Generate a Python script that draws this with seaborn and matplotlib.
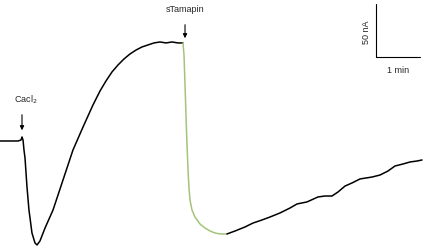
import matplotlib
matplotlib.use("Agg")
import matplotlib.pyplot as plt
import seaborn as sns
import pandas as pd

# --- data (time in s, current in nA relative to baseline) ---
t_pre = [0, 13.6, 24.5, 28.6, 30.0, 31.4, 32.7, 34.1, 36.8, 39.5, 43.6, 47.7, 50.5,
         54.5, 61.4, 72.3, 85.9, 99.5, 113.2, 126.8, 136.4, 144.5, 152.7, 160.9,
         169.1, 177.3, 185.5, 193.6, 201.8, 210.0, 218.2, 226.4, 234.5, 242.7, 249.5]
i_pre = [0, 0, 0, 0.9, 3.8, 0.9, -8.5, -16.0, -43.4, -65.1, -86.8, -96.2, -98.1,
         -94.3, -82.1, -65.1, -36.8, -8.5, 13.2, 34.0, 47.2, 56.6, 65.1, 71.7,
         77.4, 82.1, 85.8, 88.7, 90.6, 92.5, 93.4, 92.5, 93.4, 92.5, 92.5]
t_tam = [249.5, 250.9, 252.3, 253.6, 255.0, 256.4, 257.7, 259.1, 261.8, 265.9,
         272.7, 279.5, 286.4, 293.2, 300.0, 309.5]
i_tam = [92.5, 81.1, 52.8, 24.5, -3.8, -27.4, -44.3, -55.7, -65.1, -71.7,
         -78.3, -82.1, -84.9, -86.8, -87.7, -87.7]
t_post = [309.5, 320.5, 334.1, 345.0, 357.3, 368.2, 381.8, 395.5, 405.0, 418.6,
          433.6, 443.2, 452.7, 460.9, 470.5, 480.0, 490.9, 507.3, 518.2, 529.1,
          538.6, 549.5, 559.1, 568.6, 575.5]
i_post = [-87.7, -84.9, -81.1, -77.4, -74.5, -71.7, -67.9, -63.2, -59.4, -57.5,
          -52.8, -51.9, -51.9, -48.1, -42.5, -39.6, -35.8, -34.0, -32.1, -28.3,
          -23.6, -21.7, -19.8, -18.9, -17.9]

labels = ["Cacl$_2$", "sTamapin"]
label_times = [30.0, 252.3]
scale_time_label = "1 min"
scale_curr_label = "50 nA"
scale_t = 60    # s
scale_i = 50    # nA

sns.set_style("white")
plt.rcParams['font.family'] = ['Liberation Sans', 'DejaVu Sans']

fig = plt.figure(figsize=(4.23, 2.47), dpi=100)
ax = fig.add_axes([0, 0, 1, 1])

df_pre = pd.DataFrame({"t": t_pre, "i": i_pre})
df_tam = pd.DataFrame({"t": t_tam, "i": i_tam})
df_post = pd.DataFrame({"t": t_post, "i": i_post})

kw = dict(x="t", y="i", ax=ax, lw=1.1, sort=False, estimator=None)
sns.lineplot(data=df_pre, color="black", **kw)
sns.lineplot(data=df_tam, color="#a3c47a", **kw)
sns.lineplot(data=df_post, color="black", **kw)

ax.set_xlim(0, 576.8)
ax.set_ylim(-100.0, 133.0)
ax.axis("off")

arrow = dict(arrowstyle="-|>", color="black", lw=0.8, mutation_scale=6)
# event arrows
ax.annotate("", xy=(label_times[0], 7.5), xytext=(label_times[0], 27.4), arrowprops=arrow)
ax.text(label_times[0] + 5.5, 38.7, labels[0], ha="center", va="center", fontsize=6.5)
ax.annotate("", xy=(label_times[1], 94.3), xytext=(label_times[1], 112.3), arrowprops=arrow)
ax.text(label_times[1], 123.6, labels[1], ha="center", va="center", fontsize=6.5)

# scale bar
sx, sy = 512.7, 79.2
ax.plot([sx, sx], [sy, sy + scale_i], color="black", lw=0.8)
ax.plot([sx, sx + scale_t], [sy, sy], color="black", lw=0.8)
ax.text(sx - 13.5, sy + 23, scale_curr_label, rotation=90, ha="center", va="center", fontsize=6.5)
ax.text(sx + 30, sy - 12.5, scale_time_label, ha="center", va="center", fontsize=6.5)

fig.savefig("out.png", dpi=100)
